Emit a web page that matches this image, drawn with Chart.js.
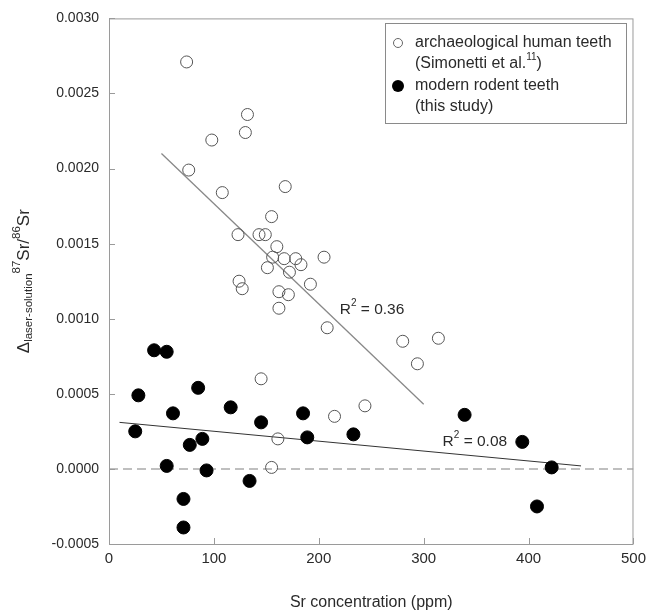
<!DOCTYPE html>
<html>
<head>
<meta charset="utf-8">
<script src="https://cdn.jsdelivr.net/npm/chart.js@4.4.1/dist/chart.umd.min.js"></script>
<style>
  html, body { margin: 0; padding: 0; background: #fff; }
  #wrap { width: 652px; height: 613px; }
</style>
</head>
<body>
<div id="wrap"><canvas id="chart" width="652" height="613"></canvas></div>
<script>
// --- data ---
const humanSr = [74, 98, 76, 108, 130, 132, 123, 143, 149, 155, 168, 160, 156, 167, 178, 183, 151, 172, 205,
  124, 127, 162, 171, 192, 162, 208, 280, 314, 294, 145, 244, 215, 161, 155];
const humanDelta = [0.00271, 0.00219, 0.00199, 0.00184, 0.00224, 0.00236, 0.00156, 0.00156, 0.00156, 0.00168, 0.00188,
  0.00148, 0.00141, 0.00140, 0.00140, 0.00136, 0.00134, 0.00131, 0.00141,
  0.00125, 0.00120, 0.00118, 0.00116, 0.00123, 0.00107, 0.00094, 0.00085, 0.00087, 0.00070, 0.00060, 0.00042,
  0.00035, 0.00020, 0.00001];

const rodentSr = [43, 55, 28, 85, 61, 116, 25, 145, 185, 189, 233, 77, 89, 55, 93, 134, 71, 71, 339, 394, 422, 408];
const rodentDelta = [0.00079, 0.00078, 0.00049, 0.00054, 0.00037, 0.00041, 0.00025, 0.00031, 0.00037, 0.00021, 0.00023,
  0.00016, 0.00020, 0.00002, -0.00001, -0.00008, -0.00020, -0.00039, 0.00036, 0.00018, 0.00001, -0.00025];

// regression line end points
const humanFitSr = [50, 300];
const humanFitDelta = [0.00210, 0.00043];
const rodentFitSr = [10, 450];
const rodentFitDelta = [0.00031, 0.00002];

const zeroLineSr = [0, 500];
const zeroLineDelta = [0, 0];

const xTicks = [0, 100, 200, 300, 400, 500];
const yTicks = [-0.0005, 0, 0.0005, 0.001, 0.0015, 0.002, 0.0025, 0.003];

const toPoints = (xs, ys) => xs.map((x, i) => ({ x: x, y: ys[i] }));

const FONT = "Liberation Sans, Arial, Helvetica, sans-serif";
const TEXT = "#2a2a2a";
const AXIS = "#9a9a9a";

// draws text pieces with sub/superscripts, returns width
function richText(ctx, parts, x, y, size, small, measureOnly) {
  let cx = x;
  const s2 = small || size * 0.62;
  parts.forEach(p => {
    const s = p.sub || p.sup ? s2 : size;
    ctx.font = s + "px " + FONT;
    const dy = p.sub ? size * 0.3 : (p.sup ? -size * 0.42 : 0);
    if (!measureOnly) ctx.fillText(p.t, cx, y + dy);
    cx += ctx.measureText(p.t).width;
  });
  return cx - x;
}

const decorPlugin = {
  id: "decor",
  afterDraw(chart) {
    const ctx = chart.ctx;
    const a = chart.chartArea;
    const xs = chart.scales.x, ys = chart.scales.y;
    ctx.save();

    // frame
    ctx.strokeStyle = AXIS;
    ctx.lineWidth = 1;
    ctx.strokeRect(a.left + 0.5, a.top + 0.5, a.right - a.left - 1, a.bottom - a.top);

    // inward ticks
    ctx.beginPath();
    xTicks.forEach(v => {
      const px = Math.round(xs.getPixelForValue(v)) + 0.5;
      ctx.moveTo(px, a.bottom);
      ctx.lineTo(px, a.bottom - 6);
    });
    yTicks.forEach(v => {
      const py = Math.round(ys.getPixelForValue(v)) + 0.5;
      ctx.moveTo(a.left, py);
      ctx.lineTo(a.left + 6, py);
    });
    ctx.stroke();

    ctx.fillStyle = TEXT;
    ctx.textBaseline = "middle";
    ctx.textAlign = "left";

    // R² labels
    const r2 = (val, xv, yv) => {
      richText(ctx, [{ t: "R" }, { t: "2", sup: true }, { t: " = " + val }],
        xs.getPixelForValue(xv), ys.getPixelForValue(yv), 15.5, 10);
    };
    r2("0.36", 220, 0.00106);
    r2("0.08", 318, 0.00018);

    // legend box
    const lx = 385, ly = 23, lw = 241, lh = 100;
    ctx.strokeStyle = "#8a8a8a";
    ctx.strokeRect(lx + 0.5, ly + 0.5, lw, lh);
    const rows = [43, 64, 86, 107];
    ctx.beginPath();
    ctx.arc(398, rows[0], 4.5, 0, Math.PI * 2);
    ctx.strokeStyle = "#666";
    ctx.stroke();
    ctx.beginPath();
    ctx.arc(398, rows[2], 6, 0, Math.PI * 2);
    ctx.fillStyle = "#000";
    ctx.fill();
    ctx.fillStyle = TEXT;
    richText(ctx, [{ t: "archaeological human teeth" }], 415, rows[0], 16);
    richText(ctx, [{ t: "(Simonetti et al." }, { t: "11", sup: true }, { t: ")" }], 415, rows[1], 16, 10);
    richText(ctx, [{ t: "modern rodent teeth" }], 415, rows[2], 16);
    richText(ctx, [{ t: "(this study)" }], 415, rows[3], 16);

    // x title
    ctx.textAlign = "center";
    ctx.font = "16px " + FONT;
    ctx.fillText("Sr concentration (ppm)", (a.left + a.right) / 2, 603);

    // y title (rotated)
    const yParts = [{ t: "\u0394" }, { t: "laser-solution", sub: true }, { t: "87", sup: true },
      { t: "Sr/" }, { t: "86", sup: true }, { t: "Sr" }];
    ctx.textAlign = "left";
    const w = richText(ctx, yParts, 0, 0, 17, 11.5, true);
    ctx.translate(24, (a.top + a.bottom) / 2);
    ctx.rotate(-Math.PI / 2);
    richText(ctx, yParts, -w / 2, 0, 17, 11.5);

    ctx.restore();
  }
};

new Chart(document.getElementById("chart"), {
  type: "scatter",
  data: {
    datasets: [
      {
        label: "modern rodent teeth",
        data: toPoints(rodentSr, rodentDelta),
        pointRadius: 6.5,
        pointBackgroundColor: "#000",
        pointBorderColor: "#000",
        pointBorderWidth: 1
      },
      {
        label: "archaeological human teeth",
        data: toPoints(humanSr, humanDelta),
        pointRadius: 6,
        pointBackgroundColor: "rgba(0,0,0,0)",
        pointBorderColor: "#555",
        pointBorderWidth: 1
      },
      {
        type: "line",
        data: toPoints(rodentFitSr, rodentFitDelta),
        borderColor: "#333",
        borderWidth: 1,
        pointRadius: 0
      },
      {
        type: "line",
        data: toPoints(humanFitSr, humanFitDelta),
        borderColor: "#888",
        borderWidth: 1.3,
        pointRadius: 0
      },
      {
        type: "line",
        data: toPoints(zeroLineSr, zeroLineDelta),
        borderColor: "#aaa",
        borderWidth: 1.5,
        borderDash: [9, 5],
        pointRadius: 0
      }
    ]
  },
  options: {
    responsive: false,
    animation: false,
    events: [],
    layout: { padding: { top: 17, right: 14, left: 0, bottom: 0 } },
    plugins: { legend: { display: false }, tooltip: { enabled: false } },
    scales: {
      x: {
        type: "linear",
        min: 0,
        max: 500,
        afterBuildTicks: s => { s.ticks = xTicks.map(v => ({ value: v })); },
        afterFit: s => { s.height = 69; },
        grid: { display: false, drawTicks: false },
        border: { display: false },
        ticks: { padding: 6, color: TEXT, font: { size: 15, family: FONT }, maxRotation: 0 }
      },
      y: {
        type: "linear",
        min: -0.0005,
        max: 0.003,
        afterBuildTicks: s => { s.ticks = yTicks.map(v => ({ value: v })); },
        afterFit: s => { s.width = 109; },
        grid: { display: false, drawTicks: false },
        border: { display: false },
        ticks: {
          padding: 10,
          color: TEXT,
          font: { size: 14, family: FONT },
          callback: v => v.toFixed(4)
        }
      }
    }
  },
  plugins: [decorPlugin]
});
</script>
</body>
</html>
